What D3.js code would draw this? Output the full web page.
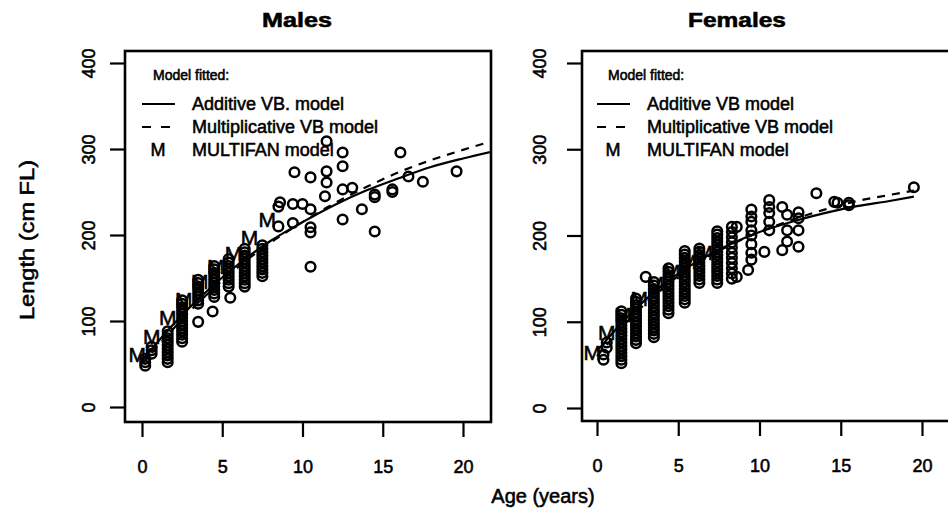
<!DOCTYPE html>
<html><head><meta charset="utf-8">
<script src="https://cdn.jsdelivr.net/npm/d3@7"></script>
<style>body{margin:0;background:#fff}svg{display:block}text{font-family:"Liberation Sans",Arial,sans-serif;fill:#000;stroke:#000;stroke-width:0.55px}</style>
</head><body><svg id="c" width="948" height="518"></svg>
<script>
const ageTicks = [0, 5, 10, 15, 20];
const lengthTicks = [0, 100, 200, 300, 400];
const panelTitles = ["Males", "Females"];
const legendTitle = "Model fitted:";
const legendLabelsMale = ["Additive VB. model", "Multiplicative VB model", "MULTIFAN model"];
const legendLabelsFemale = ["Additive VB  model", "Multiplicative VB model", "MULTIFAN model"];

// observed [age, length]
const maleObs = [
 [0.2,48],[0.2,52],[0.2,56],[0.6,62],[0.6,66],[0.6,70],
 [1.6,52],[1.6,56],[1.6,60],[1.6,64],[1.6,68],[1.6,72],[1.6,76],[1.6,80],[1.6,84],[1.6,88],
 [2.5,76],[2.5,80],[2.5,84],[2.5,88],[2.5,92],[2.5,96],[2.5,100],[2.5,104],[2.5,108],[2.5,112],[2.5,116],[2.5,120],[2.5,124],
 [3.5,99],[3.5,120],[3.5,124],[3.5,128],[3.5,132],[3.5,136],[3.5,140],[3.5,144],[3.5,148],
 [4.4,111],[4.5,128],[4.5,132],[4.5,136],[4.5,140],[4.5,144],[4.5,148],[4.5,152],[4.5,156],[4.5,160],[4.5,164],
 [5.5,127],[5.4,140],[5.4,144],[5.4,148],[5.4,152],[5.4,156],[5.4,160],[5.4,164],[5.4,168],[5.4,172],
 [6.4,140],[6.4,144],[6.4,148],[6.4,152],[6.4,156],[6.4,160],[6.4,164],[6.4,168],[6.4,172],[6.4,176],[6.4,180],[6.4,184],
 [7.5,152],[7.5,156],[7.5,160],[7.5,164],[7.5,168],[7.5,172],[7.5,176],[7.5,180],[7.5,184],[7.5,188],
 [8.5,210],[8.5,233],[8.6,238],[9.4,214],[9.4,236],[9.5,273],[10.0,236],
 [10.5,163],[10.5,203],[10.5,209],[10.5,230],[10.5,267],
 [11.4,245],[11.5,261],[11.5,274],[11.5,309],
 [12.5,218],[12.5,253],[12.5,280],[12.5,296],[13.1,255],[13.7,230],
 [14.5,204],[14.5,244],[14.5,247],[15.6,250],[15.6,253],[16.1,296],[16.6,268],[17.5,262],[19.6,274]
];
const femaleObs = [
 [0.4,56],[0.4,62],[0.6,70],[0.6,76],
 [1.5,52],[1.5,56],[1.5,60],[1.5,64],[1.5,68],[1.5,72],[1.5,76],[1.5,80],[1.5,84],[1.5,88],[1.5,92],[1.5,96],[1.5,100],[1.5,104],[1.5,108],[1.5,112],
 [2.4,75],[2.4,79],[2.4,83],[2.4,87],[2.4,91],[2.4,95],[2.4,99],[2.4,103],[2.4,107],[2.4,111],[2.4,115],[2.4,119],[2.4,123],[2.4,127],
 [3.0,152],
 [3.5,82],[3.5,86],[3.5,90],[3.5,94],[3.5,98],[3.5,102],[3.5,106],[3.5,110],[3.5,114],[3.5,118],[3.5,122],[3.5,126],[3.5,130],[3.5,134],[3.5,138],[3.5,142],[3.5,146],
 [4.4,110],[4.4,114],[4.4,118],[4.4,122],[4.4,126],[4.4,130],[4.4,134],[4.4,138],[4.4,142],[4.4,146],[4.4,150],[4.4,154],[4.4,158],[4.4,162],
 [5.4,122],[5.4,126],[5.4,130],[5.4,134],[5.4,138],[5.4,142],[5.4,146],[5.4,150],[5.4,154],[5.4,158],[5.4,162],[5.4,166],[5.4,170],[5.4,174],[5.4,178],[5.4,182],
 [6.3,145],[6.3,149],[6.3,153],[6.3,157],[6.3,161],[6.3,165],[6.3,169],[6.3,173],[6.3,177],[6.3,181],[6.3,185],
 [7.4,145],[7.4,149],[7.4,153],[7.4,157],[7.4,161],[7.4,165],[7.4,169],[7.4,173],[7.4,177],[7.4,181],[7.4,185],[7.4,189],[7.4,193],[7.4,197],[7.4,201],[7.4,205],
 [8.3,150],[8.3,156],[8.3,162],[8.3,168],[8.3,174],[8.3,180],[8.3,186],[8.3,192],[8.3,198],[8.3,204],[8.3,210],
 [8.6,152],[8.6,210],[9.3,160],
 [9.5,172],[9.5,180],[9.5,190],[9.5,200],[9.5,206],[9.5,216],[9.5,222],[9.5,230],
 [10.3,181],[10.6,206],[10.6,216],[10.6,226],[10.6,233],[10.6,241],
 [11.4,183],[11.4,233],[11.7,193],[11.7,206],[11.7,224],
 [12.4,187],[12.4,206],[12.4,220],[12.4,227],
 [13.5,249],[14.6,239],[14.8,238],[15.5,235],[15.5,238],[19.5,256]
];
const maleMultifan = [[-0.3,61],[0.6,82],[1.6,104],[2.6,125],[3.6,146],[4.6,163],[5.7,179],[6.7,197],[7.8,218]];
const femaleMultifan = [[-0.3,64],[0.6,88],[1.6,108],[2.6,127],[3.6,144],[4.6,158],[5.6,170],[6.6,180]];
const maleAdditive = [[0,54],[2,97],[4,134],[6,166],[8,193],[10,215],[12,235],[14,252],[16,266],[18,279],[20,289],[21.8,297]];
const maleMultiplicative = [[0,50],[2,92],[4,130],[6,163],[8,191],[10,215],[12,237],[14,256],[16,273],[18,287],[20,299],[21.8,309]];
const femaleAdditive = [[0,66],[2,108],[4,142],[6,168],[8,188],[10,204],[12,216],[14,226],[16,234],[18,240],[19.5,245]];
const femaleMultiplicative = [[0,60],[2,103],[4,138],[6,166],[8,187],[10,204],[12,218],[14,230],[16,240],[18,247],[19.5,252]];

const svg = d3.select("#c");
svg.append("rect").attr("width",948).attr("height",518).attr("fill","#fff");

const panels = [
 {title: panelTitles[0], titleX: 297, box:[125,491,51,422], xr:[142,463], yr:[407,63], obs: maleObs, mf: maleMultifan, add: maleAdditive, mult: maleMultiplicative, leg: legendLabelsMale, legX: 142, labOff: -30},
 {title: panelTitles[1], titleX: 737, box:[582,951,51,421], xr:[597,922], yr:[408,63], obs: femaleObs, mf: femaleMultifan, add: femaleAdditive, mult: femaleMultiplicative, leg: legendLabelsFemale, legX: 597, labOff: -36}
];

panels.forEach(p => {
  const x = d3.scaleLinear().domain([0,20]).range(p.xr);
  const y = d3.scaleLinear().domain([0,400]).range(p.yr);
  const [bx0,bx1,by0,by1] = p.box;
  const g = svg.append("g");

  g.append("text").attr("x",p.titleX).attr("y",27).attr("text-anchor","middle")
   .attr("font-size",20).attr("font-weight","bold")
   .attr("textLength", p.title.length*14).attr("lengthAdjust","spacingAndGlyphs").text(p.title);

  const ya = g.append("g").attr("transform",`translate(${bx0},0)`)
    .call(d3.axisLeft(y).tickValues(lengthTicks).tickSize(15).tickSizeOuter(0));
  ya.select(".domain").remove();
  ya.selectAll(".tick line").attr("stroke","#000").attr("stroke-width",2.2);
  ya.selectAll(".tick text").attr("x",0).attr("dy",null)
    .attr("transform",`translate(${p.labOff},0) rotate(-90)`)
    .attr("text-anchor","middle").attr("font-size",18).attr("font-family",'"Liberation Sans",Arial,sans-serif');

  const xa = g.append("g").attr("transform",`translate(0,${by1})`)
    .call(d3.axisBottom(x).tickValues(ageTicks).tickSize(15).tickPadding(23).tickSizeOuter(0));
  xa.select(".domain").remove();
  xa.selectAll(".tick line").attr("stroke","#000").attr("stroke-width",2.2);
  xa.selectAll(".tick text").attr("font-size",18).attr("font-family",'"Liberation Sans",Arial,sans-serif');

  const cid = "clip"+p.title;
  svg.append("clipPath").attr("id",cid).append("rect").attr("x",bx0).attr("y",by0).attr("width",bx1-bx0).attr("height",by1-by0);
  const plot = g.append("g").attr("clip-path",`url(#${cid})`);

  plot.selectAll("circle").data(p.obs).join("circle")
    .attr("cx",d=>x(d[0])).attr("cy",d=>y(d[1])).attr("r",4.8)
    .attr("fill","none").attr("stroke","#000").attr("stroke-width",2.5);

  const line = d3.line().x(d=>x(d[0])).y(d=>y(d[1])).curve(d3.curveMonotoneX);
  plot.append("path").attr("d",line(p.add)).attr("fill","none").attr("stroke","#000").attr("stroke-width",2.2);
  plot.append("path").attr("d",line(p.mult)).attr("fill","none").attr("stroke","#000").attr("stroke-width",2.2).attr("stroke-dasharray","8,7");

  plot.selectAll("text.m").data(p.mf).join("text").attr("class","m")
    .attr("x",d=>x(d[0])).attr("y",d=>y(d[1])).attr("dy","0.36em")
    .attr("text-anchor","middle").attr("font-size",21).text("M");

  g.append("rect").attr("x",bx0).attr("y",by0).attr("width",bx1-bx0).attr("height",by1-by0)
   .attr("fill","none").attr("stroke","#000").attr("stroke-width",2.6);

  const lx = p.legX;
  g.append("text").attr("x",lx+11).attr("y",80).attr("font-size",14).text(legendTitle);
  const rows = [104,127,150];
  g.append("line").attr("x1",lx).attr("x2",lx+33).attr("y1",rows[0]).attr("y2",rows[0]).attr("stroke","#000").attr("stroke-width",2.2);
  g.append("line").attr("x1",lx).attr("x2",lx+33).attr("y1",rows[1]).attr("y2",rows[1]).attr("stroke","#000").attr("stroke-width",2.2).attr("stroke-dasharray","9,10");
  g.append("text").attr("x",lx+16).attr("y",rows[2]).attr("dy","0.36em").attr("text-anchor","middle").attr("font-size",18).text("M");
  p.leg.forEach((t,i)=>{
    g.append("text").attr("x",lx+50).attr("y",rows[i]).attr("dy","0.36em").attr("font-size",18).text(t);
  });
});

svg.append("text").attr("x",543).attr("y",503).attr("text-anchor","middle").attr("font-size",20).text("Age (years)");
svg.append("text").attr("transform","translate(34,240) rotate(-90)").attr("text-anchor","middle").attr("font-size",20)
  .attr("textLength",160).attr("lengthAdjust","spacingAndGlyphs").text("Length (cm FL)");
</script></body></html>
